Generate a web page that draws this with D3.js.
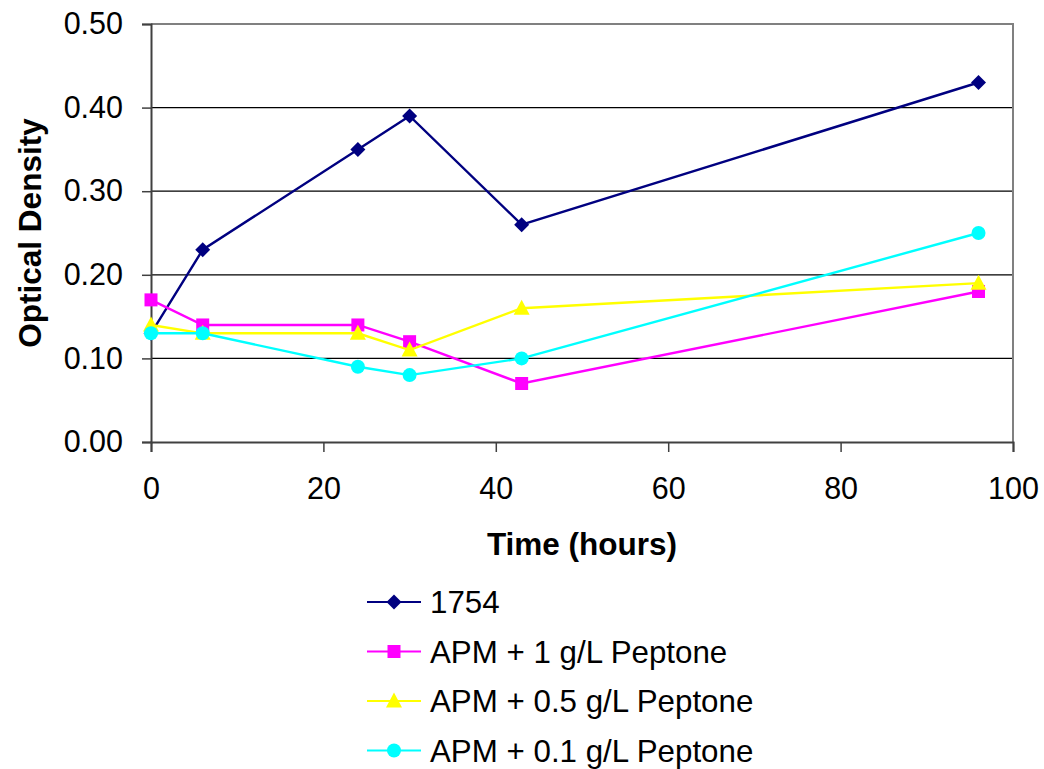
<!DOCTYPE html>
<html>
<head>
<meta charset="utf-8">
<script src="https://cdn.jsdelivr.net/npm/d3@7"></script>
<style>
  html, body { margin: 0; padding: 0; background: #fff; }
  svg { display: block; font-family: "Liberation Sans", Arial, sans-serif; }
</style>
</head>
<body>
<svg id="chart" width="1044" height="769"></svg>
<script>
// Sampling times (hours)
const times = [0, 6, 24, 30, 43, 96];

// Optical density readings per culture
const od1754 = [0.13, 0.23, 0.35, 0.39, 0.26, 0.43];
const odPep1 = [0.17, 0.14, 0.14, 0.12, 0.07, 0.18];
const odPep05 = [0.14, 0.13, 0.13, 0.11, 0.16, 0.19];
const odPep01 = [0.13, 0.13, 0.09, 0.08, 0.10, 0.25];

const seriesNames = ["1754", "APM + 1 g/L Peptone", "APM + 0.5 g/L Peptone", "APM + 0.1 g/L Peptone"];
const seriesColors = ["#000080", "#FF00FF", "#FFFF00", "#00FFFF"];
const seriesShapes = ["diamond", "square", "triangle", "circle"];

const xTicks = [0, 20, 40, 60, 80, 100];
const yTicks = [0, 0.1, 0.2, 0.3, 0.4, 0.5];

const series = [od1754, odPep1, odPep05, odPep01].map((vals, i) => ({
  name: seriesNames[i],
  color: seriesColors[i],
  shape: seriesShapes[i],
  points: times.map((t, j) => ({ t, v: vals[j] }))
}));

const plotL = 151, plotR = 1013, plotT = 24, plotB = 442;
const x = d3.scaleLinear().domain([0, 100]).range([plotL, plotR]);
const y = d3.scaleLinear().domain([0, 0.5]).range([plotB, plotT]);

const svg = d3.select("#chart");
const FONT = "Liberation Sans, Arial, sans-serif";

// horizontal gridlines
svg.append("g").selectAll("line")
  .data(yTicks.filter(v => v > 0 && v < 0.5))
  .join("line")
  .attr("x1", plotL).attr("x2", plotR)
  .attr("y1", d => y(d)).attr("y2", d => y(d))
  .attr("stroke", "#000").attr("stroke-width", 1.3);

// plot area frame (top and right)
svg.append("path")
  .attr("d", `M${plotL},${plotT}H${plotR}V${plotB}`)
  .attr("fill", "none").attr("stroke", "#808080").attr("stroke-width", 2);

// y axis
const yAxis = svg.append("g")
  .attr("transform", `translate(${plotL},0)`)
  .call(d3.axisLeft(y).tickValues(yTicks).tickFormat(d3.format(".2f")).tickSize(9).tickPadding(19));
yAxis.select(".domain").attr("stroke", "#404040").attr("stroke-width", 2);
yAxis.selectAll(".tick line").attr("stroke", "#404040").attr("stroke-width", 1.5);
yAxis.selectAll("text").attr("font-size", 30.5).attr("fill", "#000").attr("font-family", FONT);

// x axis
const xAxis = svg.append("g")
  .attr("transform", `translate(0,${plotB})`)
  .call(d3.axisBottom(x).tickValues(xTicks).tickFormat(d3.format("d")).tickSize(10).tickPadding(26));
xAxis.select(".domain").attr("stroke", "#404040").attr("stroke-width", 2);
xAxis.selectAll(".tick line").attr("stroke", "#404040").attr("stroke-width", 1.5);
xAxis.selectAll("text").attr("font-size", 30.5).attr("fill", "#000").attr("font-family", FONT)
  .attr("dy", null).attr("y", 57);

// axis titles
svg.append("text")
  .attr("x", (plotL + plotR) / 2).attr("y", 555)
  .attr("text-anchor", "middle")
  .attr("font-size", 31.5).attr("font-weight", "bold")
  .text("Time (hours)");

svg.append("text")
  .attr("transform", `translate(41,${(plotT + plotB) / 2}) rotate(-90)`)
  .attr("text-anchor", "middle")
  .attr("font-size", 31.5).attr("font-weight", "bold")
  .text("Optical Density");

// marker shapes
function symbolPath(shape) {
  switch (shape) {
    case "diamond": return "M0,-7.5L7.5,0L0,7.5L-7.5,0Z";
    case "square": return "M-6.5,-6.5H6.5V6.5H-6.5Z";
    case "triangle": return "M0,-8.5L8,6.5H-8Z";
    default: return d3.symbol().type(d3.symbolCircle).size(Math.PI * 7 * 7)();
  }
}

const line = d3.line().x(d => x(d.t)).y(d => y(d.v));

const sg = svg.append("g").selectAll("g").data(series).join("g");
sg.append("path")
  .attr("d", d => line(d.points))
  .attr("fill", "none")
  .attr("stroke", d => d.color)
  .attr("stroke-width", 2.4);
sg.each(function (s) {
  d3.select(this).selectAll("path.mk").data(s.points).join("path")
    .attr("class", "mk")
    .attr("transform", d => `translate(${x(d.t)},${y(d.v)})`)
    .attr("d", symbolPath(s.shape))
    .attr("fill", s.color);
});

// legend
const legend = svg.append("g");
const rows = legend.selectAll("g").data(series).join("g")
  .attr("transform", (d, i) => `translate(0,${602 + i * 49.5})`);
rows.append("line")
  .attr("x1", 367).attr("x2", 421)
  .attr("stroke", d => d.color).attr("stroke-width", 2.2);
rows.append("path")
  .attr("transform", "translate(394,0)")
  .attr("d", d => symbolPath(d.shape))
  .attr("fill", d => d.color);
rows.append("text")
  .attr("x", 430).attr("y", 11)
  .attr("font-size", 31.3)
  .text(d => d.name);
</script>
</body>
</html>
